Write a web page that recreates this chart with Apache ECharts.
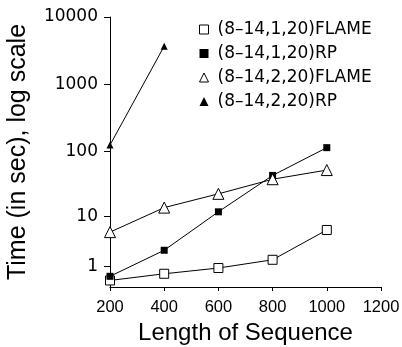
<!DOCTYPE html>
<html>
<head>
<meta charset="utf-8">
<script src="https://cdn.jsdelivr.net/npm/echarts@6/dist/echarts.min.js"></script>
<style>
  html, body { margin: 0; padding: 0; background: #fff; }
  #chart { width: 402px; height: 347px; }
</style>
</head>
<body>
<div id="chart"></div>
<script>
// sequence lengths on the x axis
const lengths = [200, 400, 600, 800, 1000];
// times in seconds
const flame1 = [0.25, 0.57, 0.91, 1.53, 6.0];
const rp1 = [0.44, 2.5, 12, 44, 115];
const flame2 = [5.5, 14, 23, 38.5, 53];
const rp2 = [126, 3700];
// y tick labels (the original axis is log10(1 + t))
const yTicks = [1, 10, 100, 1000, 10000];
const seriesNames = ['(8\u201314,1,20)FLAME', '(8\u201314,1,20)RP', '(8\u201314,2,20)FLAME', '(8\u201314,2,20)RP'];

const toY = v => Math.log10(1 + v);
const pairs = (xs, ys) => ys.map((y, i) => [xs[i], toY(y)]);

const chart = echarts.init(document.getElementById('chart'), null, { renderer: 'canvas' });

const baseSeries = { type: 'line', lineStyle: { color: '#000', width: 1 }, animation: false };

chart.setOption({
  backgroundColor: '#fff',
  animation: false,
  grid: { left: 110, right: 21, top: 17, bottom: 60, outerBoundsMode: 'none' },
  legend: {
    orient: 'vertical',
    left: 199,
    top: 21,
    padding: 0,
    itemWidth: 9,
    itemHeight: 9,
    itemGap: 7,
    textStyle: { fontFamily: 'DejaVu Sans', fontSize: 17, lineHeight: 17, color: '#000', padding: [0, 0, 0, 4] },
    data: [
      { name: seriesNames[0], icon: 'rect', itemStyle: { color: '#fff', borderColor: '#000', borderWidth: 1 } },
      { name: seriesNames[1], icon: 'rect', itemStyle: { color: '#000' } },
      { name: seriesNames[2], icon: 'triangle', itemStyle: { color: '#fff', borderColor: '#000', borderWidth: 1 } },
      { name: seriesNames[3], icon: 'triangle', itemStyle: { color: '#000' } }
    ]
  },
  xAxis: {
    type: 'value',
    min: 200,
    max: 1200,
    interval: 200,
    name: 'Length of Sequence',
    nameLocation: 'middle',
    nameGap: 32,
    nameTextStyle: { fontFamily: 'Liberation Sans', fontSize: 24, color: '#000' },
    axisLine: { lineStyle: { color: '#000', width: 1 } },
    axisTick: { length: 4, lineStyle: { color: '#000' } },
    axisLabel: { fontFamily: 'Liberation Sans', fontSize: 16.5, color: '#000', margin: 12, formatter: v => String(v) },
    splitLine: { show: false }
  },
  yAxis: {
    type: 'value',
    min: 0,
    max: toY(10000),
    name: 'Time (in sec), log scale',
    nameLocation: 'middle',
    nameGap: 79,
    nameTextStyle: { fontFamily: 'Liberation Sans', fontSize: 25, color: '#000' },
    axisLine: { show: true, lineStyle: { color: '#000', width: 1 } },
    axisTick: { show: true, length: 6, customValues: yTicks.map(toY), lineStyle: { color: '#000' } },
    axisLabel: {
      fontFamily: 'DejaVu Sans',
      fontSize: 17,
      color: '#000',
      margin: 12,
      customValues: yTicks.map(toY),
      formatter: v => String(Math.round(Math.pow(10, v) - 1))
    },
    splitLine: { show: false }
  },
  series: [
    Object.assign({}, baseSeries, {
      name: seriesNames[0], data: pairs(lengths, flame1), symbol: 'rect', symbolSize: 9,
      itemStyle: { color: '#fff', borderColor: '#000', borderWidth: 1 }
    }),
    Object.assign({}, baseSeries, {
      name: seriesNames[1], data: pairs(lengths, rp1), symbol: 'rect', symbolSize: 7,
      itemStyle: { color: '#000' }
    }),
    Object.assign({}, baseSeries, {
      name: seriesNames[2], data: pairs(lengths, flame2), symbol: 'triangle', symbolSize: 11,
      itemStyle: { color: '#fff', borderColor: '#000', borderWidth: 1 }
    }),
    Object.assign({}, baseSeries, {
      name: seriesNames[3], data: pairs(lengths, rp2), symbol: 'triangle', symbolSize: 7,
      itemStyle: { color: '#000' }
    })
  ]
});
</script>
</body>
</html>
